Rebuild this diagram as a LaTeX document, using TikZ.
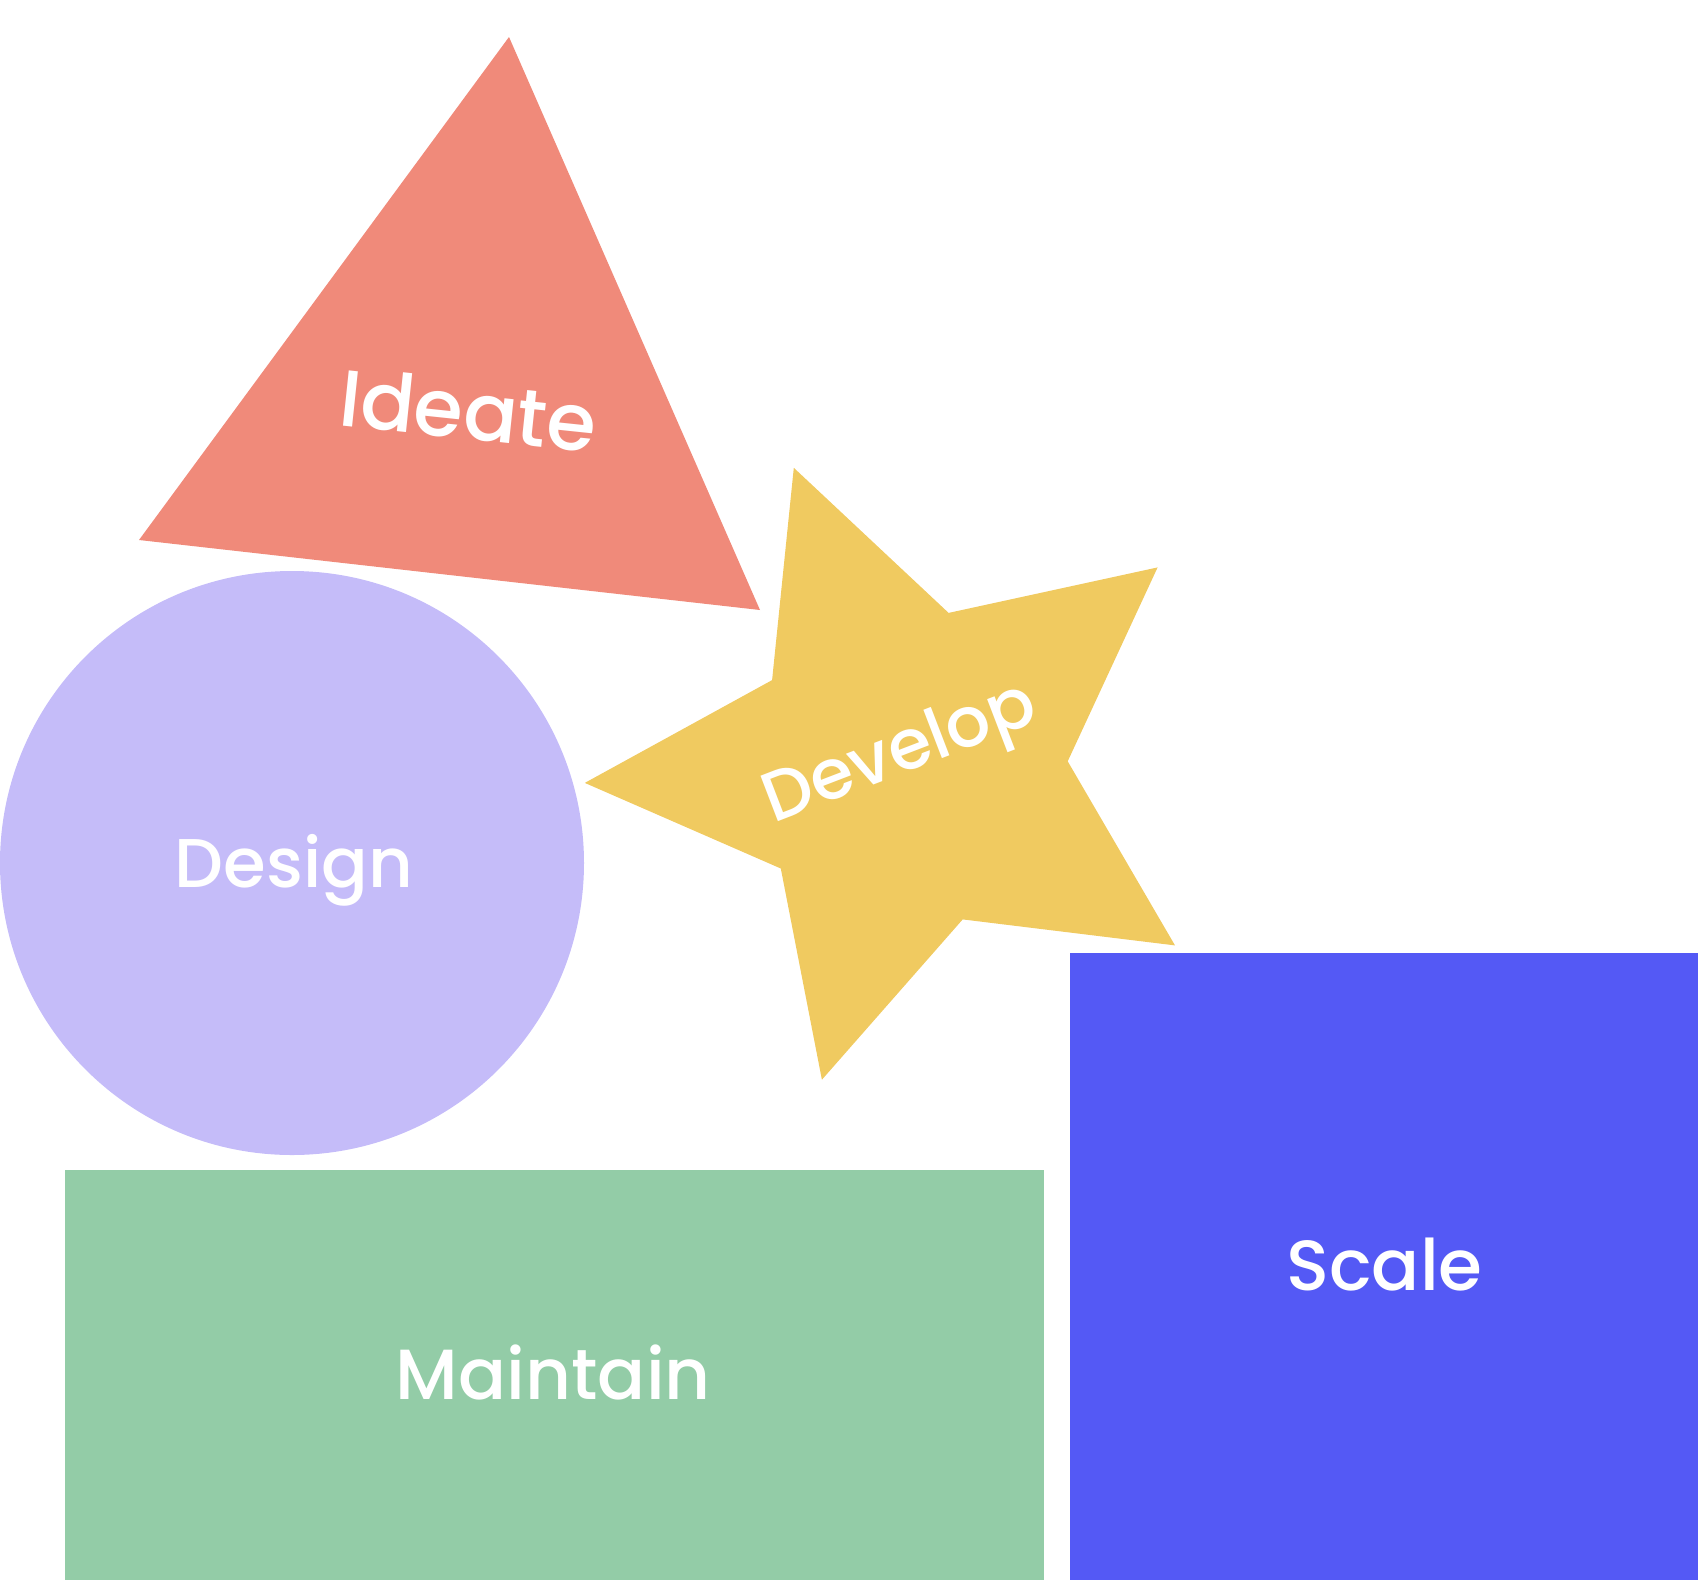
\documentclass[tikz,border=0pt]{standalone}
\usepackage{fontspec}
\IfFontExistsTF{Poppins Medium}{\setmainfont{Poppins Medium}}{\setmainfont{Poppins}[FakeBold=1.2]}
\definecolor{ctri}{RGB}{240,138,122}
\definecolor{ccirc}{RGB}{197,188,249}
\definecolor{cstar}{RGB}{240,202,96}
\definecolor{cgreen}{RGB}{147,204,167}
\definecolor{cblue}{RGB}{84,89,245}
\begin{document}
\begin{tikzpicture}[x=1pt,y=-1pt,
  lbl/.style={text=white,inner sep=0pt}]
\useasboundingbox (0,0) rectangle (1698,1580);
% shapes
\fill[ctri] (509,37) -- (139,540) -- (760,610) -- cycle;
\fill[ccirc] (292,863) circle[radius=292];
\fill[cstar] (793.8,467.8) -- (948.6,612.9) -- (1157.6,567.4) -- (1067.7,761.3) -- (1175.0,945.4) -- (962.7,919.4) -- (821.9,1079.7) -- (780.8,868.5) -- (584.8,782.9) -- (772.1,680.1) -- cycle;
\fill[cgreen] (65,1169.5) rectangle (1044,1580);
\fill[cblue] (1070,953) rectangle (1698,1580);
% labels
\node[lbl,anchor=center,rotate=-6,font=\fontsize{80}{80}\selectfont] (ideate) at (468.4,409.9) {Ideate};
\node[lbl,anchor=center,rotate=21,font=\fontsize{70}{70}\selectfont] (develop) at (901,756.6) {Develop};
\node[lbl,anchor=base,font=\fontsize{69}{69}\selectfont] (design) at (294,887) {Design};
\node[lbl,anchor=base,font=\fontsize{71}{71}\selectfont] (maintain) at (553.4,1399) {Maintain};
\node[lbl,anchor=base,font=\fontsize{71}{71}\selectfont] (scale) at (1384.5,1290.8) {Scale};
\end{tikzpicture}
\end{document}
